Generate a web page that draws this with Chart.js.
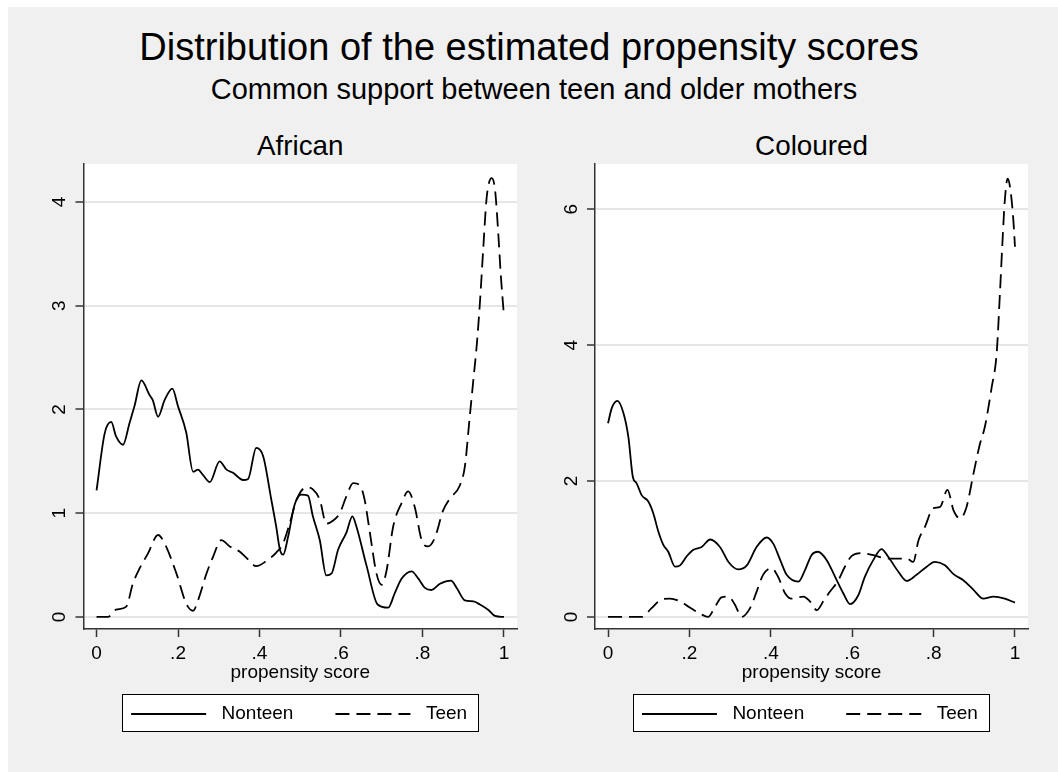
<!DOCTYPE html>
<html>
<head>
<meta charset="UTF-8" />
<title>Distribution of the estimated propensity scores</title>
<script src="https://cdn.jsdelivr.net/npm/chart.js"></script>
<style>
  html, body { margin: 0; padding: 0; background: #fff; overflow: hidden; }
  body { width: 1058px; height: 772px; position: relative; font-family: "Liberation Sans", Arial, sans-serif; }
  #bg { position: absolute; left: 8px; top: 7px; right: 0; bottom: 0; background: #f0f0f0; }
  .txt { position: absolute; text-align: center; color: #000; white-space: nowrap; line-height: 1; }
  canvas { position: absolute; top: 0; }
</style>
</head>
<body>
<div id="bg"></div>

<!-- titles -->
<div class="txt" style="left:0;width:1058px;top:27.8px;font-size:38px">Distribution of the estimated propensity scores</div>
<div class="txt" style="left:10px;width:1048px;top:74.5px;font-size:29px">Common support between teen and older mothers</div>
<div class="txt" style="left:83.5px;width:433.5px;top:131.5px;font-size:27.8px">African</div>
<div class="txt" style="left:595px;width:433px;top:131.5px;font-size:27.8px">Coloured</div>

<canvas id="african" width="529" height="772" style="left:0"></canvas>
<canvas id="coloured" width="529" height="772" style="left:529px"></canvas>

<script>
// axis ticks
const xTicks = [0, 0.2, 0.4, 0.6, 0.8, 1];
const xTickLabels = ['0', '.2', '.4', '.6', '.8', '1'];
const africanYTicks = [0, 1, 2, 3, 4];
const colouredYTicks = [0, 2, 4, 6];

// African - Nonteen (kernel density)
const africanNonteenX = [0, 0.02, 0.036, 0.048, 0.065, 0.081, 0.093, 0.11, 0.13, 0.138, 0.151, 0.167, 0.186, 0.2,
  0.22, 0.237, 0.249, 0.261, 0.278, 0.302, 0.319, 0.335, 0.36, 0.372, 0.392, 0.409, 0.429, 0.441, 0.45, 0.458,
  0.47, 0.486, 0.503, 0.519, 0.531, 0.548, 0.564, 0.577, 0.593, 0.613, 0.628, 0.638, 0.663, 0.69, 0.716, 0.732,
  0.749, 0.773, 0.79, 0.806, 0.822, 0.843, 0.87, 0.884, 0.904, 0.925, 0.941, 0.961, 0.978, 1];
const africanNonteenY = [1.22, 1.77, 1.88, 1.74, 1.66, 1.87, 2.03, 2.28, 2.14, 2.09, 1.93, 2.09, 2.2, 2.03,
  1.78, 1.4, 1.42, 1.37, 1.3, 1.5, 1.42, 1.39, 1.32, 1.33, 1.63, 1.55, 1.13, 0.87, 0.65, 0.6,
  0.77, 1.08, 1.18, 1.17, 0.97, 0.74, 0.4, 0.42, 0.65, 0.81, 0.97, 0.87, 0.49, 0.12, 0.09, 0.23,
  0.37, 0.44, 0.37, 0.28, 0.26, 0.32, 0.35, 0.28, 0.16, 0.15, 0.12, 0.07, 0.01, 0];

// African - Teen
const africanTeenX = [0, 0.028, 0.048, 0.073, 0.089, 0.106, 0.126, 0.151, 0.167, 0.196, 0.22, 0.237, 0.249, 0.27,
  0.286, 0.306, 0.327, 0.351, 0.368, 0.392, 0.417, 0.441, 0.458, 0.474, 0.491, 0.515, 0.531, 0.548, 0.564, 0.581,
  0.597, 0.613, 0.63, 0.646, 0.658, 0.671, 0.687, 0.7, 0.712, 0.728, 0.749, 0.765, 0.781, 0.798, 0.814, 0.83,
  0.851, 0.867, 0.892, 0.904, 0.916, 0.925, 0.933, 0.941, 0.949, 0.957, 0.963, 0.97, 0.978, 0.986, 0.992, 1];
const africanTeenY = [0, 0, 0.07, 0.1, 0.32, 0.47, 0.61, 0.79, 0.71, 0.42, 0.13, 0.06, 0.16, 0.42,
  0.58, 0.74, 0.68, 0.63, 0.57, 0.49, 0.54, 0.62, 0.71, 0.9, 1.13, 1.25, 1.23, 1.13, 0.9, 0.93,
  1.0, 1.16, 1.29, 1.27, 1.13, 0.81, 0.42, 0.31, 0.45, 0.87, 1.1, 1.21, 1.06, 0.74, 0.68, 0.76,
  1.03, 1.14, 1.27, 1.45, 1.93, 2.29, 2.61, 3.03, 3.54, 4.02, 4.18, 4.23, 4.12, 3.7, 3.31, 2.9];

// Coloured - Nonteen
const colouredNonteenX = [0, 0.009, 0.023, 0.038, 0.05, 0.061, 0.07, 0.083, 0.099, 0.111, 0.124, 0.136, 0.148,
  0.165, 0.177, 0.193, 0.21, 0.23, 0.251, 0.275, 0.296, 0.32, 0.341, 0.365, 0.39, 0.406, 0.423, 0.439, 0.468,
  0.484, 0.5, 0.516, 0.537, 0.558, 0.578, 0.595, 0.615, 0.631, 0.652, 0.672, 0.688, 0.713, 0.734, 0.758, 0.783,
  0.803, 0.828, 0.849, 0.873, 0.898, 0.922, 0.947, 0.975, 1];
const colouredNonteenY = [2.85, 3.07, 3.18, 3.0, 2.65, 2.06, 1.97, 1.79, 1.7, 1.53, 1.25, 1.06, 0.96,
  0.74, 0.76, 0.89, 0.99, 1.03, 1.14, 1.03, 0.81, 0.7, 0.76, 1.03, 1.17, 1.08, 0.84, 0.62, 0.52,
  0.69, 0.91, 0.96, 0.84, 0.59, 0.35, 0.19, 0.32, 0.59, 0.84, 1.0, 0.89, 0.67, 0.53, 0.62, 0.74,
  0.81, 0.76, 0.63, 0.54, 0.4, 0.27, 0.3, 0.27, 0.21];

// Coloured - Teen
const colouredTeenX = [0, 0.083, 0.107, 0.132, 0.152, 0.177, 0.201, 0.226, 0.246, 0.263, 0.279, 0.296, 0.312,
  0.328, 0.349, 0.365, 0.381, 0.402, 0.418, 0.435, 0.451, 0.48, 0.496, 0.513, 0.529, 0.545, 0.566, 0.582, 0.599,
  0.623, 0.652, 0.685, 0.709, 0.734, 0.75, 0.763, 0.779, 0.799, 0.816, 0.834, 0.849, 0.865, 0.881, 0.898, 0.914,
  0.926, 0.943, 0.955, 0.963, 0.969, 0.975, 0.982, 0.989, 0.996, 1];
const colouredTeenY = [0, 0, 0.13, 0.26, 0.27, 0.23, 0.14, 0.05, 0, 0.15, 0.29, 0.3, 0.18,
  0, 0.13, 0.37, 0.62, 0.72, 0.59, 0.35, 0.27, 0.3, 0.23, 0.1, 0.23, 0.37, 0.54, 0.74, 0.9,
  0.94, 0.91, 0.86, 0.86, 0.86, 0.81, 1.13, 1.33, 1.6, 1.62, 1.87, 1.57, 1.45, 1.62, 2.11, 2.55,
  2.8, 3.39, 3.88, 4.76, 5.49, 6.13, 6.45, 6.28, 5.84, 5.45];

const dark = '#333333';
const teenDash = [14, 7];

Chart.defaults.font.family = '"Liberation Sans", Arial, sans-serif';
Chart.defaults.color = '#000';

function pts(xs, ys) {
  return xs.map((x, i) => ({ x: x, y: ys[i] }));
}

// little line samples for the legend (blank space left of the line, so the gaps look like Stata's)
function legendKey(dash) {
  const c = document.createElement('canvas');
  c.width = 115;
  c.height = 4;
  const g = c.getContext('2d');
  g.strokeStyle = '#000';
  g.lineWidth = 1.8;
  g.setLineDash(dash);
  g.beginPath();
  g.moveTo(34, 2);
  g.lineTo(109, 2);
  g.stroke();
  return c;
}
const nonteenKey = legendKey([]);
const teenKey = legendKey(teenDash);

// white plot region + framed legend, drawn under everything else
const backdrop = {
  id: 'backdrop',
  beforeDraw(chart) {
    const ctx = chart.ctx;
    const a = chart.chartArea;
    ctx.save();
    ctx.fillStyle = '#fff';
    ctx.fillRect(a.left, a.top, a.right - a.left, a.bottom - a.top);
    const hb = chart.legend.legendHitBoxes;
    if (hb && hb.length) {
      const first = hb[0], last = hb[hb.length - 1];
      const x0 = first.left + 25, x1 = last.left + last.width + 11;
      const y0 = first.top - 10.5, y1 = first.top + 26.5;
      ctx.fillRect(x0, y0, x1 - x0, y1 - y0);
      ctx.strokeStyle = '#000';
      ctx.lineWidth = 1;
      ctx.strokeRect(Math.round(x0) + 0.5, Math.round(y0) + 0.5, Math.round(x1 - x0), Math.round(y1 - y0));
    }
    ctx.restore();
  }
};

function makePanel(id, nonX, nonY, teenX, teenY, yTicks, yMin, yMax, padLeft, padRight, yAxisWidth) {
  new Chart(document.getElementById(id), {
    type: 'line',
    data: {
      datasets: [
        {
          label: 'Nonteen',
          data: pts(nonX, nonY),
          borderColor: '#000',
          borderWidth: 1.8,
          pointRadius: 0,
          pointHoverRadius: 0,
          pointStyle: nonteenKey,
          cubicInterpolationMode: 'monotone',
          fill: false
        },
        {
          label: 'Teen',
          data: pts(teenX, teenY),
          borderColor: '#000',
          borderWidth: 1.8,
          borderDash: teenDash,
          pointRadius: 0,
          pointHoverRadius: 0,
          pointStyle: teenKey,
          cubicInterpolationMode: 'monotone',
          fill: false
        }
      ]
    },
    options: {
      responsive: false,
      animation: false,
      events: [],
      layout: { padding: { left: padLeft, right: padRight, top: 164, bottom: 38.5 } },
      plugins: {
        title: { display: false },
        tooltip: { enabled: false },
        legend: {
          position: 'bottom',
          labels: {
            usePointStyle: true,
            pointStyleWidth: 115,
            padding: 8,
            color: '#000',
            font: { size: 19 }
          }
        }
      },
      scales: {
        x: {
          type: 'linear',
          min: -0.032,
          max: 1.032,
          afterBuildTicks: s => { s.ticks = xTicks.map(v => ({ value: v })); },
          afterFit: s => { s.height = 67.5; },
          ticks: {
            autoSkip: false,
            maxRotation: 0,
            padding: 5.6,
            font: { size: 19 },
            callback: v => xTickLabels[xTicks.indexOf(v)]
          },
          grid: { drawOnChartArea: false, tickLength: 8, tickColor: dark, tickWidth: 1.5 },
          border: { color: dark, width: 1.5 },
          title: { display: true, text: 'propensity score', font: { size: 19 }, padding: { top: 0, bottom: 12.7 } }
        },
        y: {
          type: 'linear',
          min: yMin,
          max: yMax,
          afterBuildTicks: s => { s.ticks = yTicks.map(v => ({ value: v })); },
          afterFit: s => { s.width = yAxisWidth; },
          ticks: {
            autoSkip: false,
            minRotation: 90,
            maxRotation: 90,
            crossAlign: 'center',
            padding: 10.2,
            font: { size: 19 },
            callback: v => String(v)
          },
          grid: { color: '#e6e6e6', lineWidth: 2, tickLength: 8, tickColor: dark, tickWidth: 1.5 },
          border: { color: dark, width: 1.5 }
        }
      }
    },
    plugins: [backdrop]
  });
}

makePanel('african', africanNonteenX, africanNonteenY, africanTeenX, africanTeenY,
  africanYTicks, -0.116, 4.366, 47.2, 12, 36.3);
makePanel('coloured', colouredNonteenX, colouredNonteenY, colouredTeenX, colouredTeenY,
  colouredYTicks, -0.177, 6.667, 28.8, 30, 37.2);
</script>
</body>
</html>
